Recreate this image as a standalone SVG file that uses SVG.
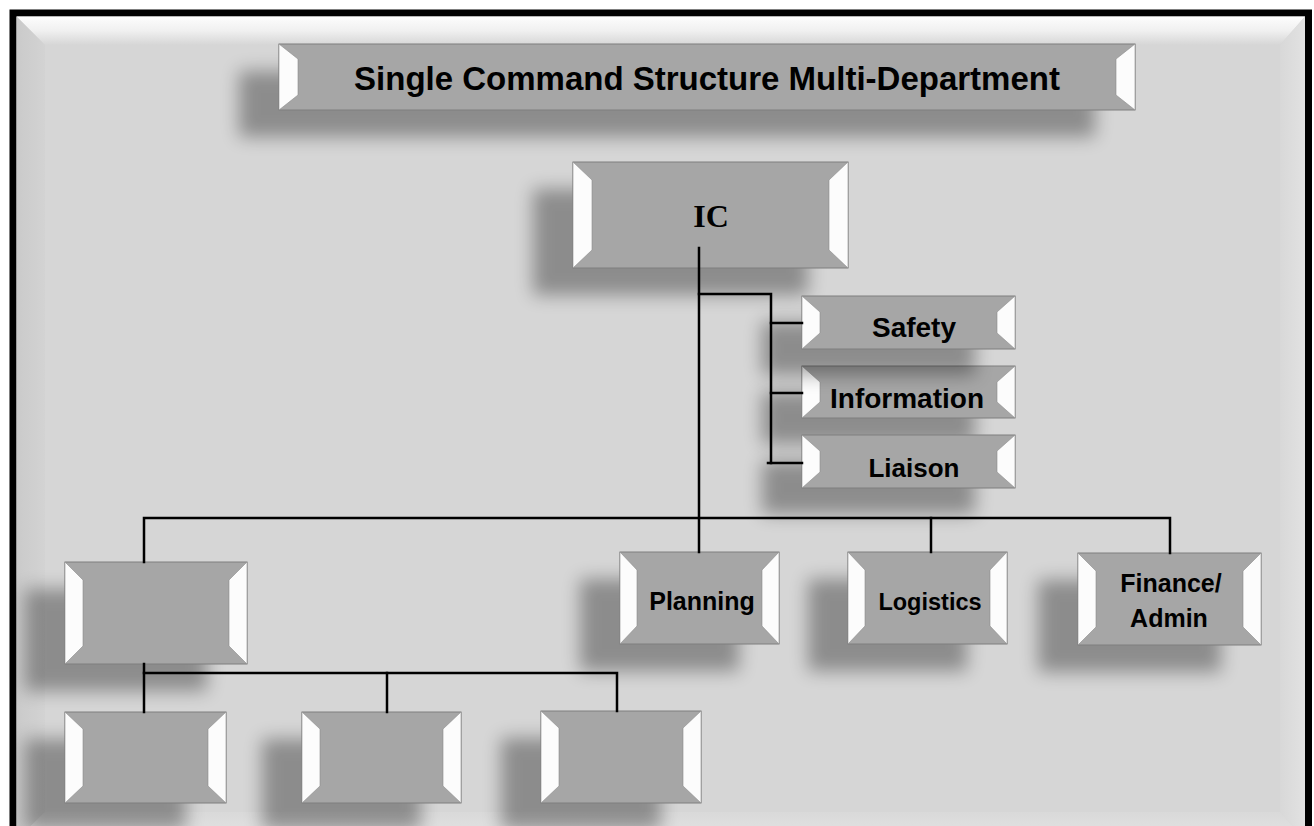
<svg xmlns="http://www.w3.org/2000/svg" width="1314" height="826" viewBox="0 0 1314 826">
<defs>
<style>
.box{fill:#a6a6a6;stroke:#7f7f7f;stroke-width:1}
.bev{fill:#fcfcfc;stroke:#8c8c8c;stroke-width:0.6}
.sh{fill:#000;opacity:0.34;filter:url(#blur)}
.lbl{font-family:"Liberation Sans",Arial,sans-serif;font-weight:bold;fill:#000;text-anchor:middle}
.ic{font-family:"Liberation Serif","Times New Roman",serif;font-weight:bold;fill:#000;text-anchor:middle;font-size:32px}
.conn{stroke:#000;stroke-width:2.5;fill:none;stroke-linecap:square}
</style>
<filter id="blur" x="-30%" y="-60%" width="160%" height="220%"><feGaussianBlur stdDeviation="9"/></filter>
<linearGradient id="gTop" x1="0" y1="0" x2="0" y2="1"><stop offset="0" stop-color="#fdfdfd"/><stop offset="0.5" stop-color="#f0f0f0"/><stop offset="1" stop-color="#d6d6d6"/></linearGradient>
<linearGradient id="gLeft" x1="0" y1="0" x2="1" y2="0"><stop offset="0" stop-color="#cacaca"/><stop offset="1" stop-color="#d3d3d3"/></linearGradient>
<linearGradient id="gRight" x1="0" y1="0" x2="1" y2="0"><stop offset="0" stop-color="#d8d8d8"/><stop offset="1" stop-color="#e2e2e2"/></linearGradient>
<linearGradient id="gBot" x1="0" y1="0" x2="0" y2="1"><stop offset="0" stop-color="#d9d9d9"/><stop offset="1" stop-color="#e4e4e4"/></linearGradient>
</defs>
<rect width="1314" height="826" fill="#ffffff"/>
<g id="frame">
<rect x="13" y="13" width="1295.5" height="850" fill="#d6d6d6" stroke="#000" stroke-width="7"/>
<polygon points="16.5,16.5 1305,16.5 1280,45 45,45" fill="url(#gTop)"/>
<polygon points="16.5,16.5 45,45 45,812 16.5,840" fill="url(#gLeft)"/>
<polygon points="1305,16.5 1305,840 1280,812 1280,45" fill="url(#gRight)"/>
<polygon points="45,812 1280,812 1305,840 16.5,840" fill="url(#gBot)"/>
</g>
<g id="shadows">
<rect class="sh" x="239" y="71" width="856" height="66"/>
<rect class="sh" x="533" y="189" width="275" height="106"/>
<rect class="sh" x="580" y="579" width="159" height="92"/>
<rect class="sh" x="808" y="579" width="159" height="92"/>
<rect class="sh" x="1038" y="580" width="183" height="92"/>
<rect class="sh" x="25" y="589" width="182" height="102"/>
<rect class="sh" x="25" y="739" width="161" height="91"/>
<rect class="sh" x="262" y="739" width="159" height="91"/>
<rect class="sh" x="501" y="738" width="160" height="92"/>
</g>
<g id="title">
<rect class="box" x="279" y="44" width="856" height="66"/>
<polygon class="bev" points="279,44 298,59 298,95 279,110"/>
<polygon class="bev" points="1135,44 1116,59 1116,95 1135,110"/>
<text class="lbl" x="707" y="90" font-size="33">Single Command Structure Multi-Department</text>
</g>
<g id="ic">
<rect class="box" x="573" y="162" width="275" height="106"/>
<polygon class="bev" points="573,162 592,180 592,250 573,268"/>
<polygon class="bev" points="848,162 829,180 829,250 848,268"/>
<text class="ic" x="711" y="227">IC</text>
</g>
<g id="information">
<rect class="sh" x="762" y="392" width="213" height="52"/>
<rect class="box" x="802" y="366" width="213" height="52"/>
<polygon class="bev" points="802,366 820,382 820,402 802,418"/>
<polygon class="bev" points="1015,366 997,382 997,402 1015,418"/>
<text class="lbl" x="907" y="408" font-size="28">Information</text>
</g>
<g id="safety">
<rect class="sh" x="762" y="322" width="213" height="53"/>
<rect class="box" x="802" y="296" width="213" height="53"/>
<polygon class="bev" points="802,296 820,312 820,333 802,349"/>
<polygon class="bev" points="1015,296 997,312 997,333 1015,349"/>
<text class="lbl" x="914" y="337" font-size="28">Safety</text>
</g>
<g id="liaison">
<rect class="sh" x="762" y="461" width="213" height="53"/>
<rect class="box" x="802" y="435" width="213" height="53"/>
<polygon class="bev" points="802,435 820,451 820,472 802,488"/>
<polygon class="bev" points="1015,435 997,451 997,472 1015,488"/>
<text class="lbl" x="914" y="477" font-size="26">Liaison</text>
</g>
<g id="planning">
<rect class="box" x="620" y="552" width="159" height="92"/>
<polygon class="bev" points="620,552 637,570 637,626 620,644"/>
<polygon class="bev" points="779,552 762,570 762,626 779,644"/>
<text class="lbl" x="702" y="610" font-size="25">Planning</text>
</g>
<g id="logistics">
<rect class="box" x="848" y="552" width="159" height="92"/>
<polygon class="bev" points="848,552 865,570 865,626 848,644"/>
<polygon class="bev" points="1007,552 990,570 990,626 1007,644"/>
<text class="lbl" x="930" y="610" font-size="23.5">Logistics</text>
</g>
<g id="finance">
<rect class="box" x="1078" y="553" width="183" height="92"/>
<polygon class="bev" points="1078,553 1096,571 1096,627 1078,645"/>
<polygon class="bev" points="1261,553 1243,571 1243,627 1261,645"/>
<text class="lbl" x="1171" y="592" font-size="25">Finance/</text>
<text class="lbl" x="1169" y="627" font-size="25">Admin</text>
</g>
<g id="operations">
<rect class="box" x="65" y="562" width="182" height="102"/>
<polygon class="bev" points="65,562 83,580 83,646 65,664"/>
<polygon class="bev" points="247,562 229,580 229,646 247,664"/>
</g>
<g id="sub1">
<rect class="box" x="65" y="712" width="161" height="91"/>
<polygon class="bev" points="65,712 83,729 83,786 65,803"/>
<polygon class="bev" points="226,712 208,729 208,786 226,803"/>
</g>
<g id="sub2">
<rect class="box" x="302" y="712" width="159" height="91"/>
<polygon class="bev" points="302,712 320,729 320,786 302,803"/>
<polygon class="bev" points="461,712 443,729 443,786 461,803"/>
</g>
<g id="sub3">
<rect class="box" x="541" y="711" width="160" height="92"/>
<polygon class="bev" points="541,711 559,728 559,786 541,803"/>
<polygon class="bev" points="701,711 683,728 683,786 701,803"/>
</g>
<g id="connectors" class="conn">
<line x1="699" y1="248" x2="699" y2="552"/>
<polyline points="699,294 771,294 771,463"/>
<line x1="771" y1="323" x2="802" y2="323"/>
<line x1="771" y1="393" x2="802" y2="393"/>
<line x1="768" y1="463" x2="802" y2="463"/>
<polyline points="144,562 144,518 1170,518 1170,553"/>
<line x1="931" y1="518" x2="931" y2="552"/>
<line x1="144" y1="664" x2="144" y2="712"/>
<polyline points="144,673 617,673 617,711"/>
<line x1="387" y1="673" x2="387" y2="712"/>
</g>
</svg>
